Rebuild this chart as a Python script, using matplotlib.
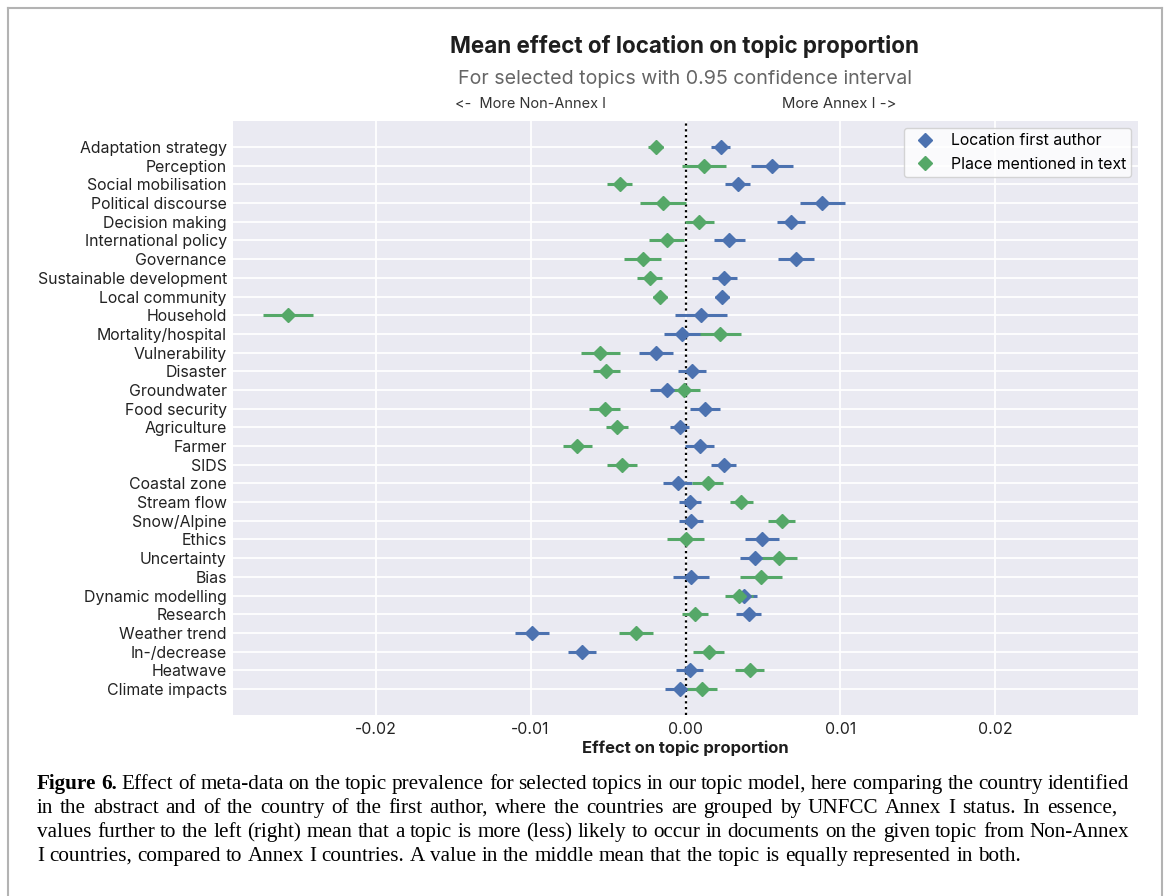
import numpy as np
import matplotlib
matplotlib.use("Agg")
import matplotlib.pyplot as plt
from matplotlib.lines import Line2D

topics = ["Adaptation strategy", "Perception", "Social mobilisation", "Political discourse",
          "Decision making", "International policy", "Governance", "Sustainable development",
          "Local community", "Household", "Mortality/hospital", "Vulnerability", "Disaster",
          "Groundwater", "Food security", "Agriculture", "Farmer", "SIDS", "Coastal zone",
          "Stream flow", "Snow/Alpine", "Ethics", "Uncertainty", "Bias", "Dynamic modelling",
          "Research", "Weather trend", "In-/decrease", "Heatwave", "Climate impacts"]

author_mean = [0.00227, 0.00556, 0.00336, 0.00884, 0.00682, 0.00283, 0.00712, 0.00250,
               0.00237, 0.00101, -0.00020, -0.00189, 0.00043, -0.00121, 0.00124, -0.00038,
               0.00091, 0.00247, -0.00050, 0.00028, 0.00035, 0.00492, 0.00447, 0.00035,
               0.00379, 0.00407, -0.00990, -0.00668, 0.00028, -0.00035]
author_err = [0.00060, 0.00136, 0.00080, 0.00145, 0.00090, 0.00100, 0.00114, 0.00080,
              0.00045, 0.00168, 0.00120, 0.00110, 0.00090, 0.00107, 0.00097, 0.00060,
              0.00093, 0.00080, 0.00092, 0.00073, 0.00080, 0.00110, 0.00095, 0.00116,
              0.00085, 0.00080, 0.00110, 0.00088, 0.00087, 0.00100]

text_mean = [-0.00192, 0.00119, -0.00424, -0.00146, 0.00088, -0.00121, -0.00275, -0.00230,
             -0.00162, -0.02564, 0.00225, -0.00550, -0.00510, -0.00008, -0.00520, -0.00440,
             -0.00697, -0.00409, 0.00144, 0.00359, 0.00621, 0.00000, 0.00604, 0.00487,
             0.00343, 0.00061, -0.00321, 0.00149, 0.00414, 0.00106]
text_err = [0.00048, 0.00140, 0.00080, 0.00148, 0.00093, 0.00114, 0.00120, 0.00080,
            0.00045, 0.00160, 0.00130, 0.00126, 0.00086, 0.00100, 0.00100, 0.00070,
            0.00093, 0.00095, 0.00100, 0.00075, 0.00088, 0.00120, 0.00117, 0.00136,
            0.00090, 0.00083, 0.00110, 0.00100, 0.00095, 0.00100]

xticks = [-0.02, -0.01, 0.0, 0.01, 0.02]
xtick_labels = ["-0.02", "-0.01", "0.00", "0.01", "0.02"]
series_names = ["Location first author", "Place mentioned in text"]

caption_lines = [
    "Figure 6. Effect of meta-data on the topic prevalence for selected topics in our topic model, here comparing the country identified",
    "in the abstract and of the country of the first author, where the countries are grouped by UNFCC Annex I status. In essence,",
    "values further to the left (right) mean that a topic is more (less) likely to occur in documents on the given topic from Non-Annex",
    "I countries, compared to Annex I countries. A value in the middle mean that the topic is equally represented in both.",
]

BLUE = "#4C72B0"
GREEN = "#55A868"
FONT = "Inter"
SERIF = "Liberation Serif"

W, H = 1171, 896
fig = plt.figure(figsize=(W / 100, H / 100), dpi=100)
fig.patch.set_facecolor("white")


def fx(px):
    return px / W


def fy(py):
    return 1 - py / H


renderer = fig.canvas.get_renderer()


def fit(t, width_px):
    w = t.get_window_extent(renderer).width
    t.set_fontsize(t.get_fontsize() * width_px / w)
    return t


def text_width(s, **kw):
    tt = fig.text(0, 0, s, **kw)
    w = tt.get_window_extent(renderer).width
    tt.remove()
    return w


# frame around the figure panel
frame_col = "#b3b3b3"
fig.add_artist(Line2D([fx(8), fx(8)], [fy(8), 0], transform=fig.transFigure, color=frame_col, lw=1.5))
fig.add_artist(Line2D([fx(8), fx(1162)], [fy(8), fy(8)], transform=fig.transFigure, color=frame_col, lw=1.5))
fig.add_artist(Line2D([fx(1162), fx(1162)], [fy(8), 0], transform=fig.transFigure, color=frame_col, lw=1.5))

# tick font size from width of longest label
probe = fig.text(0, 0, "Sustainable development", fontsize=10, family=FONT)
fit(probe, 190)
tick_fs = probe.get_fontsize()
probe.remove()

ax = fig.add_axes([fx(233), fy(715), fx(1138) - fx(233), fy(121) - fy(715)])
ax.set_facecolor("#EAEAF2")
for s in ax.spines.values():
    s.set_visible(False)

y = np.arange(len(topics))
ax.errorbar(author_mean, y, xerr=author_err, fmt="D", color=BLUE, ms=7.2,
            elinewidth=2.2, capsize=0, zorder=4)
ax.errorbar(text_mean, y, xerr=text_err, fmt="D", color=GREEN, ms=7.2,
            elinewidth=2.2, capsize=0, zorder=4)
ax.axvline(0, color="black", ls=(0, (1, 1.6)), lw=1.6, zorder=3)

ax.set_xlim(-0.0292, 0.0292)
ax.set_ylim(len(topics) - 1 + 1.39, -1.39)
ax.set_yticks(y)
ax.set_yticklabels(topics, family=FONT, fontsize=tick_fs, color="#222222")
ax.set_xticks(xticks)
ax.set_xticklabels(xtick_labels, family=FONT, fontsize=tick_fs, color="#222222")
ax.grid(True, color="white", lw=1.3)
ax.set_axisbelow(True)
ax.tick_params(length=0, axis="y", pad=4.5)
ax.tick_params(length=0, axis="x", pad=5)

handles = [Line2D([], [], marker="D", ls="none", color=BLUE, ms=7.2),
           Line2D([], [], marker="D", ls="none", color=GREEN, ms=7.2)]
leg = ax.legend(handles, series_names, loc="upper right", prop={"family": FONT, "size": tick_fs},
                frameon=True, facecolor="white", edgecolor="#cccccc", framealpha=0.8,
                borderaxespad=0.45, handletextpad=0.6, labelspacing=0.55, borderpad=0.32)
leg.get_frame().set_linewidth(1.0)

# titles and annotations
t = fig.text(fx(685), fy(47), "Mean effect of location on topic proportion", ha="center", va="center",
             family=FONT, fontweight="bold", fontsize=16, color="#1e1e1e")
fit(t, 470)
t = fig.text(fx(685), fy(79), "For selected topics with 0.95 confidence interval", ha="center", va="center",
             family=FONT, fontsize=13, color="#666666")
fit(t, 454)
t = fig.text(fx(455), fy(104), "<-  More Non-Annex I", ha="left", va="center",
             family=FONT, fontsize=10, color="#333333")
fit(t, 151)
t = fig.text(fx(782), fy(104), "More Annex I ->", ha="left", va="center",
             family=FONT, fontsize=10, color="#333333")
fit(t, 115)
t = fig.text(fx(685), fy(748), "Effect on topic proportion", ha="center", va="center",
             family=FONT, fontweight="bold", fontsize=11, color="#1e1e1e")
fit(t, 209)

# caption (justified lines, common baseline per line)
probe = fig.text(0, 0, caption_lines[2], fontsize=14, family=SERIF)
fit(probe, 1092)
cap_fs = probe.get_fontsize()
probe.remove()

cap_left = 37
cap_right = [1129, 1117, 1129, None]
baselines = [789, 813, 837, 861]
for i, (line, yy) in enumerate(zip(caption_lines, baselines)):
    words = line.split(" ")
    weights = ["normal"] * len(words)
    if i == 0:
        weights[0] = "bold"
        weights[1] = "bold"
    widths = [text_width(w_, family=SERIF, fontsize=cap_fs, fontweight=wt) for w_, wt in zip(words, weights)]
    if cap_right[i] is not None:
        gap = (cap_right[i] - cap_left - sum(widths)) / (len(words) - 1)
    else:
        gap = text_width("a a", family=SERIF, fontsize=cap_fs) - 2 * text_width("a", family=SERIF, fontsize=cap_fs)
    xpos = cap_left
    for w_, wt, ww in zip(words, weights, widths):
        fig.text(fx(xpos), fy(yy), w_, ha="left", va="baseline", family=SERIF, fontsize=cap_fs,
                 fontweight=wt, color="black")
        xpos += ww + gap

fig.savefig("out.png", dpi=100)
